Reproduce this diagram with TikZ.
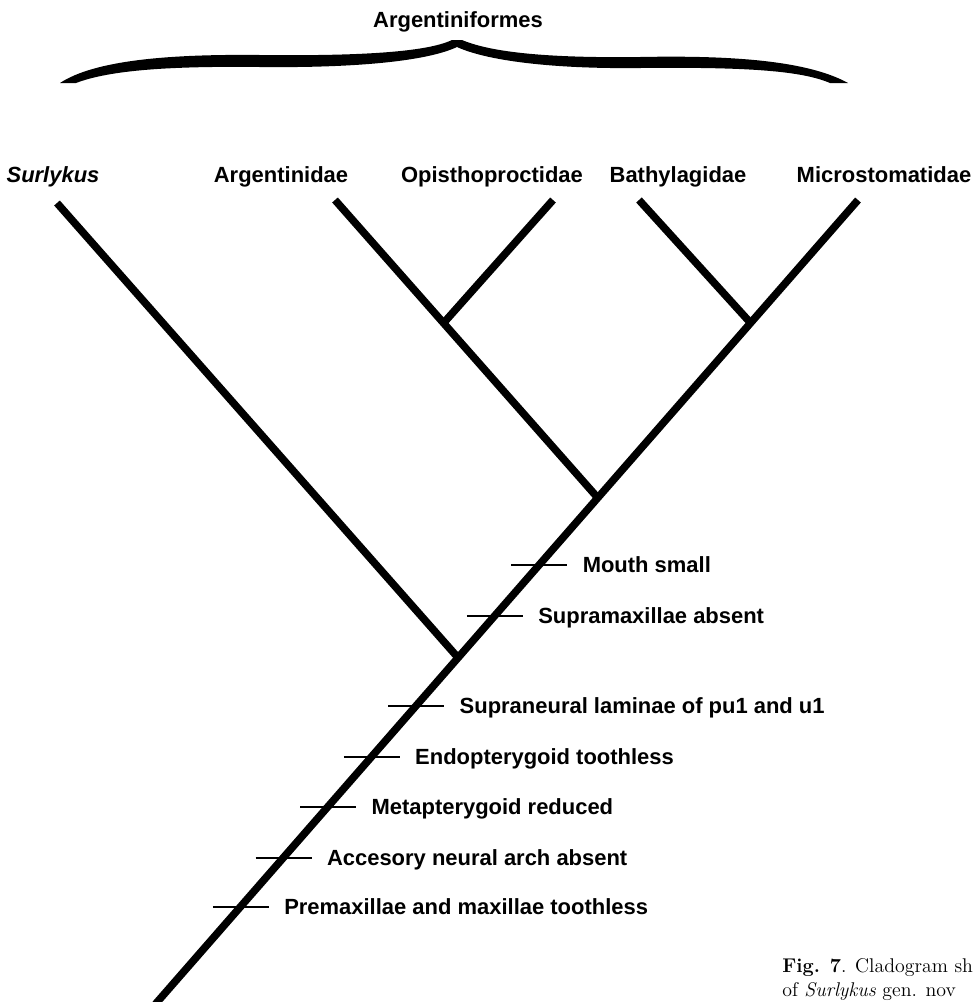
\documentclass[tikz,border=0pt]{standalone}
\usepackage{fontspec}
\setsansfont{Liberation Sans}
\usetikzlibrary{positioning,calc}

\tikzset{
  branch/.style={line width=4.3pt},
  tickmark/.style={line width=1pt},
  taxon/.style={font=\fontsize{12.5}{14}\selectfont\sffamily\bfseries, inner sep=0pt,
    text height=9pt, text depth=0pt},
  charlabel/.style={font=\fontsize{12.5}{14}\selectfont\sffamily\bfseries, anchor=west,
    inner sep=0pt, text height=9pt, text depth=0pt},
  caption/.style={font=\fontsize{11.3}{14}\selectfont, anchor=base west, inner sep=0pt}
}

\begin{document}
\begin{tikzpicture}[x=0.02cm, y=-0.02cm]

\useasboundingbox (0,0) rectangle (973,1002);

% Group label and brace
\node[taxon] (order) at (458,20) {Argentiniformes};
\fill (60,83) .. controls (95,60) and (170,54) .. (260,55)
  .. controls (350,56) and (425,53) .. (452,40) -- (462,40)
  .. controls (495,54) and (560,58) .. (640,57)
  .. controls (740,55) and (810,62) .. (848,83) -- (830,83)
  .. controls (800,70) and (740,67) .. (640,68)
  .. controls (560,69) and (490,62) .. (457,47)
  .. controls (425,62) and (350,68) .. (260,67)
  .. controls (170,66) and (110,70) .. (76,83) -- cycle;

% Terminal taxa
\node[taxon] (sur) at (53,175) {\itshape Surlykus};
\node[taxon] (arg) at (281,175) {Argentinidae};
\node[taxon] (opi) at (492,175) {Opisthoproctidae};
\node[taxon] (bat) at (678,175) {Bathylagidae};
\node[taxon] (mic) at (884,175) {Microstomatidae};

% Branch tips
\coordinate (tSur) at (57,203);
\coordinate (tArg) at (335,200);
\coordinate (tOpi) at (553,200);
\coordinate (tBat) at (639,200);
\coordinate (tMic) at (858,200);

% Nodes of the tree
\coordinate (root) at (155.5,1004);
\coordinate (n1) at (458.3,658);
\coordinate (n2) at (597.9,498);
\coordinate (n3) at (443.6,323);
\coordinate (n4) at (750.6,323);

% Branches
\draw[branch] (tMic) -- (root);
\draw[branch] (tSur) -- (n1);
\draw[branch] (tArg) -- (n2);
\draw[branch] (tOpi) -- (n3);
\draw[branch] (tBat) -- (n4);

% Characters along the stem
\foreach \y/\txt [count=\i] in {565/Mouth small, 616/Supramaxillae absent,
    706/Supraneural laminae of pu1 and u1, 757/Endopterygoid toothless,
    807/Metapterygoid reduced, 858/Accesory neural arch absent,
    907/Premaxillae and maxillae toothless} {
  \pgfmathsetmacro\xx{858-0.8728*(\y-200)}
  \draw[tickmark] (\xx-28,\y) -- (\xx+28,\y);
  \node[charlabel] (c\i) at (\xx+43,\y) {\txt};
}

% Caption
\node[caption] (cap1) at (782,972) {\textbf{Fig. 7}. Cladogram sh};
\node[caption] (cap2) at (782,996) {of \textit{Surlykus} gen. nov};

\end{tikzpicture}
\end{document}
